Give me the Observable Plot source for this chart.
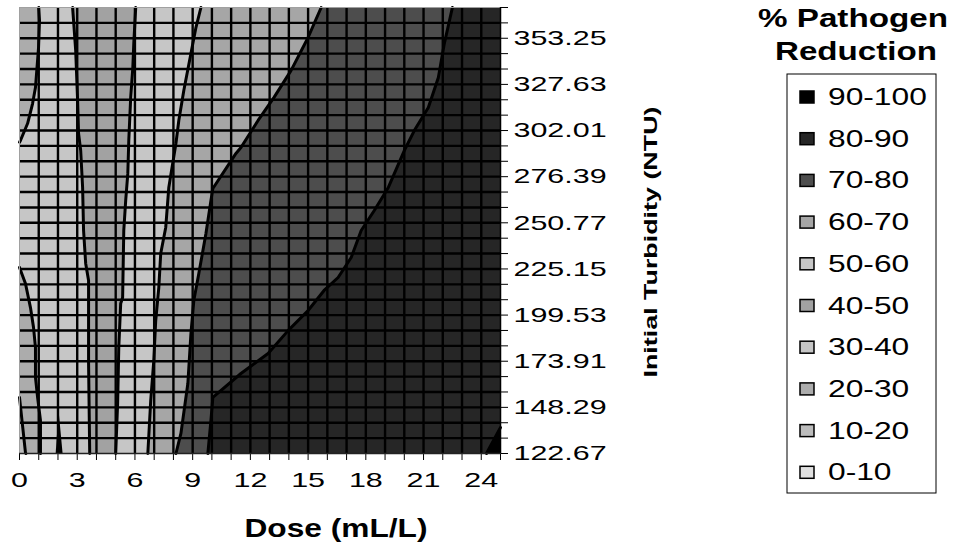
<!DOCTYPE html>
<html><head><meta charset="utf-8">
<script src="https://cdn.jsdelivr.net/npm/d3@7"></script>
<script src="https://cdn.jsdelivr.net/npm/@observablehq/plot@0.6"></script>
<style>body{margin:0;background:#fff} svg{display:block}</style>
</head><body><div id="chart"></div>
<script>
// ---- data ----
const doses = [0,1,2,3,4,5,6,7,8,9,10,11,12,13,14,15,16,17,18,19,20,21,22,23,24,25];
const doseLabels = [0,3,6,9,12,15,18,21,24];
const turbidity = [122.67,131.21,139.75,148.29,156.83,165.37,173.91,182.45,190.99,199.53,208.07,216.61,225.15,233.69,242.23,250.77,259.31,267.85,276.39,284.93,293.47,302.01,310.55,319.09,327.63,336.17,344.71,353.25,361.79,370.33];
const turbidityLabels = [122.67,148.29,173.91,199.53,225.15,250.77,276.39,302.01,327.63,353.25];
const bandLabels = ["90-100","80-90","70-80","60-70","50-60","40-50","30-40","20-30","10-20","0-10"];
const bandColors = ["#000000","#262626","#4d4d4d","#a6a6a6","#c6c6c6","#a2a2a2","#c6c6c6","#acacac","#bcbcbc","#e0e0e0"];

// contour lines: [dose, turbidity]
const contour20 = [[0,153.8],[0.31,123.2],[0.33,122.67]];
const contour30Top = [[1.0,370.33],[1.04,363.1],[0.99,348.1],[0.83,325.9],[0.68,317.0],[0.42,305.9],[0.05,296.5],[0,295.5]];
const contour30Bottom = [[0,226.0],[0.31,217.1],[0.57,203.7],[0.73,192.6],[0.83,181.5],[0.83,164.9],[0.94,153.8],[1.09,141.0],[1.09,122.67]];
const contour40Wedge = [[1.88,122.67],[2.03,146.5],[2.24,122.67]];
const contour40 = [[2.76,370.33],[2.81,363.1],[2.92,346.5],[3.02,318.7],[3.07,300.4],[3.18,290.9],[3.28,270.4],[3.33,246.5],[3.44,228.2],[3.59,218.7],[3.59,172.6],[3.65,122.67]];
const contour50 = [[6.04,370.33],[5.94,350.3],[5.89,337.0],[5.78,320.4],[5.68,296.5],[5.63,278.2],[5.52,263.2],[5.42,246.5],[5.36,209.3],[5.26,206.0],[5.16,181.5],[5.10,150.4],[5.0,122.67]];
const contour60 = [[9.43,370.33],[9.17,359.2],[8.91,344.8],[8.54,324.2],[8.28,307.6],[8.13,294.8],[7.76,270.4],[7.60,248.2],[7.34,233.7],[7.24,214.8],[7.08,196.5],[6.98,174.3],[6.82,152.1],[6.67,122.67]];
const contour70 = [[15.68,370.33],[15.0,353.7],[14.11,335.3],[13.23,320.4],[12.40,307.6],[11.51,292.6],[11.25,289.3],[10.05,269.8],[9.95,263.2],[9.69,244.8],[9.32,222.6],[9.06,207.6],[8.91,189.3],[8.75,161.5],[8.39,133.8],[8.13,122.67]];
const contour80 = [[22.5,370.33],[22.08,350.3],[21.77,331.5],[21.25,314.8],[20.52,302.0],[20.0,290.9],[19.17,270.4],[18.44,257.6],[17.76,246.5],[17.24,231.5],[16.56,220.4],[15.83,213.2],[15.0,202.1],[13.96,190.9],[12.92,178.2],[11.51,167.1],[10.05,153.8],[9.95,141.0],[9.79,122.67]];
const contour90 = [[24.27,122.67],[25,137.1]];

// ---- band polygons built from the contours ----
const xMin = doses[0], xMax = doses[doses.length-1];
const yMin = turbidity[0], yMax = turbidity[turbidity.length-1];
const rev = a => a.slice().reverse();
const bands = [
  {poly: [...contour30Top, [xMin,yMax]], color: bandColors[7]},
  {poly: [...contour30Bottom, [xMin,yMin]], color: bandColors[7]},
  {poly: [...contour20, [xMin,yMin]], color: bandColors[8]},
  {poly: [...contour40, ...rev(contour50)], color: bandColors[5]},
  {poly: [...contour60, ...rev(contour70)], color: bandColors[3]},
  {poly: [...contour70, ...rev(contour80)], color: bandColors[2]},
  {poly: [...contour80, [xMax,yMin],[xMax,yMax]], color: bandColors[1]},
  {poly: [...contour90, [xMax,yMin]], color: bandColors[0]},
  {poly: contour40Wedge, color: "#000"}
];
const contours = [contour20, contour30Top, contour30Bottom, contour40, contour50, contour60, contour70, contour80, contour90];

const fx = d => d[0], fy = d => d[1];
const marks = [Plot.frame({fill: bandColors[4], stroke: "none"})];
bands.forEach(b => marks.push(Plot.line(b.poly, {x: fx, y: fy, fill: b.color, stroke: "none", curve: "linear-closed"})));
contours.forEach(c => marks.push(Plot.line(c, {x: fx, y: fy, stroke: "#000", strokeWidth: 3})));
marks.push(Plot.ruleX(doses.slice(1,-1), {stroke: "#000", strokeWidth: 2.4}));
marks.push(Plot.ruleY(turbidity.slice(1,-1), {stroke: "#000", strokeWidth: 2.4}));
marks.push(Plot.ruleX([xMin], {stroke: "#a0a0a0", strokeWidth: 1}));
marks.push(Plot.ruleY([yMax], {stroke: "#a0a0a0", strokeWidth: 1}));
marks.push(Plot.ruleX([xMax], {stroke: "#000", strokeWidth: 1.5}));
marks.push(Plot.ruleY([yMin], {stroke: "#222", strokeWidth: 1.5}));

const chart = Plot.plot({
  width: 956, height: 554,
  marginLeft: 19, marginRight: 456, marginTop: 7, marginBottom: 101,
  style: {fontFamily: "'Liberation Sans', Arial, sans-serif", fontSize: "21px", color: "#000", background: "#fff", overflow: "visible"},
  x: {domain: [xMin, xMax], ticks: doses, tickSize: 7, tickPadding: 12, tickFormat: d => doseLabels.includes(d) ? String(d) : "", label: null},
  y: {domain: [yMin, yMax], ticks: turbidity, axis: "right", tickSize: 7, tickPadding: 6, tickFormat: d => turbidityLabels.includes(d) ? d.toFixed(2) : "", label: null},
  marks
});
document.getElementById("chart").append(chart);
const svgEl = chart.tagName.toLowerCase() === "svg" ? chart : chart.querySelector("svg");
const svg = d3.select(svgEl);

// widen tick labels like the reference
svg.selectAll("text").each(function() {
  if (!this.textContent) return;
  const L = this.getComputedTextLength();
  this.setAttribute("textLength", (L * 1.45).toFixed(1));
  this.setAttribute("lengthAdjust", "spacingAndGlyphs");
});

const FONT = "'Liberation Sans', Arial, sans-serif";
function addText(g, str, x, y, size, bold, len, anchor, transform) {
  const t = g.append("text").text(str)
    .attr("font-family", FONT).attr("font-size", size)
    .attr("font-weight", bold ? "bold" : "normal")
    .attr("text-anchor", anchor || "start").attr("fill", "#000");
  if (transform) t.attr("transform", transform); else t.attr("x", x).attr("y", y);
  if (len) t.attr("textLength", len).attr("lengthAdjust", "spacingAndGlyphs");
  return t;
}
const g = svg.append("g");
addText(g, "Dose (mL/L)", 336, 537, 25, true, 183, "middle");
addText(g, "Initial Turbidity (NTU)", 0, 0, 18, true, 271, "middle", "translate(657,242) rotate(-90)");
addText(g, "% Pathogen", 853, 27, 25, true, 190, "middle");
addText(g, "Reduction", 856, 60, 25, true, 162, "middle");

g.append("rect").attr("x", 787).attr("y", 74).attr("width", 149).attr("height", 419)
  .attr("fill", "#fff").attr("stroke", "#000").attr("stroke-width", 1);
bandLabels.forEach((lab, i) => {
  const cy = 97 + i * 41.7;
  g.append("rect").attr("x", 800).attr("y", cy - 6).attr("width", 14).attr("height", 12)
    .attr("fill", bandColors[i]).attr("stroke", "#000").attr("stroke-width", 1.5);
  const t = addText(g, lab, 828, cy + 8, 23, false, null, "start");
  const L = t.node().getComputedTextLength();
  t.attr("textLength", (L * 1.38).toFixed(1)).attr("lengthAdjust", "spacingAndGlyphs");
});
</script></body></html>
